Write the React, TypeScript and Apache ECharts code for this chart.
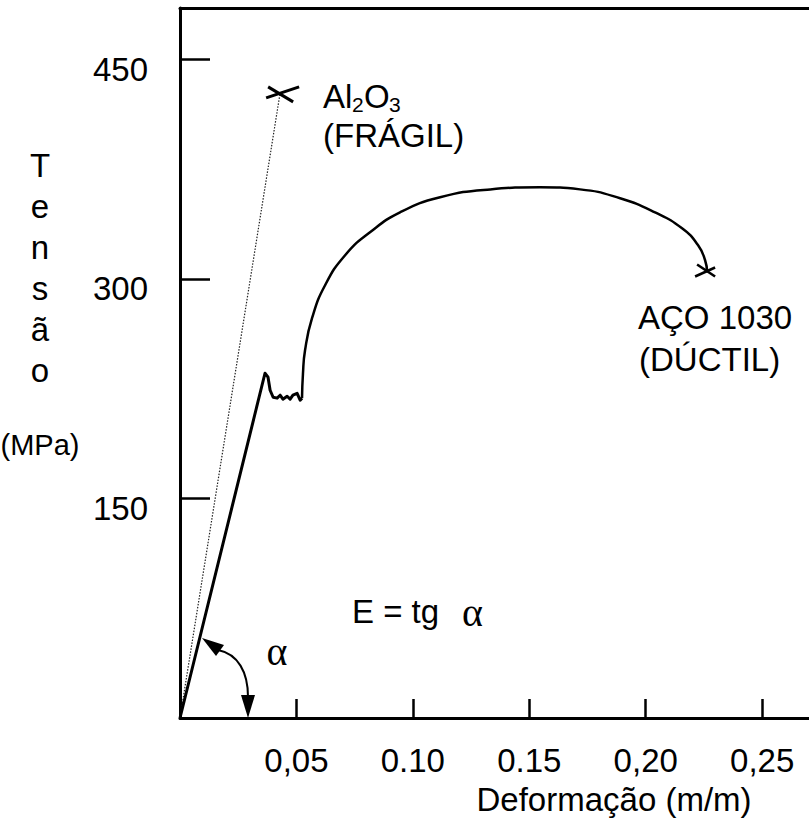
import React, { useEffect, useRef } from "react";
import * as echarts from "echarts";

// ---- data (strain in m/m, stress in MPa) ----
const xTickText: Record<string, string> = {
  "0.05": "0,05",
  "0.10": "0.10",
  "0.15": "0.15",
  "0.20": "0,20",
  "0.25": "0,25",
};
const yTickValues = [150, 300, 450];

// Al2O3 (brittle): straight line up to fracture
const aluminaStrain = [0, 0.043];
const aluminaStress = [0, 427];

// AÇO 1030: elastic part + yield plateau
const steelYieldStrain = [0, 0.0365, 0.0378, 0.0387, 0.04, 0.0417, 0.043, 0.0442, 0.046, 0.0473, 0.0485, 0.0503, 0.0516, 0.0524];
const steelYieldStress = [0, 235.5, 232.8, 223.9, 219.1, 218.5, 220.5, 217.8, 219.8, 217.8, 220.5, 221.8, 217.1, 218.5];

// AÇO 1030: strain hardening, necking, fracture
const steelPlasticStrain = [0.0524, 0.0528, 0.0537, 0.0567, 0.0623, 0.0709, 0.0816, 0.0945, 0.1117, 0.1332, 0.1546, 0.1718, 0.189, 0.204, 0.2156, 0.2225, 0.2255, 0.2264];
const steelPlasticStress = [218.5, 235, 251.2, 273.1, 295.6, 316.1, 331.8, 345.4, 355.7, 361.1, 362.5, 361.1, 355.0, 345.4, 334.5, 322.9, 312.7, 304.5];

// fracture points
const aluminaFracture = [0.043, 427];
const steelFracture = [0.2255, 305];

const SANS = "'Liberation Sans', Arial, Helvetica, sans-serif";
const SERIF = "'Liberation Serif', 'Times New Roman', serif";
const FS = 33;

const zip = (a: number[], b: number[]) => a.map((v, i) => [v, b[i]]);

export default function App() {
  const ref = useRef<HTMLDivElement>(null);
  useEffect(() => {
    if (!ref.current) return;
    const chart = echarts.init(ref.current, undefined, { renderer: "svg" });

    const crossRender = (arms: number[][], w: number) => (params: any, api: any) => {
      const p = api.coord([api.value(0), api.value(1)]);
      return {
        type: "group",
        children: arms.map((a) => ({
          type: "line",
          shape: { x1: p[0] + a[0], y1: p[1] + a[1], x2: p[0] + a[2], y2: p[1] + a[3] },
          style: { stroke: "#000", lineWidth: w },
        })),
      };
    };

    const txt = (text: string, x: number, y: number, opts: any = {}) => ({
      type: "text",
      x,
      y,
      style: {
        text,
        fill: "#000",
        fontSize: FS,
        fontFamily: SANS,
        align: "left",
        verticalAlign: "middle",
        ...opts,
      },
    });

    chart.setOption({
      animation: false,
      backgroundColor: "#fff",
      grid: {
        left: 180,
        top: 8,
        width: 652,
        height: 710,
        show: false,
        outerBoundsMode: "none",
        containLabel: false,
      },
      xAxis: [
        {
          type: "value",
          min: 0,
          max: 0.28,
          interval: 0.05,
          axisLine: { show: true, lineStyle: { color: "#000", width: 3 } },
          axisTick: { show: true, inside: true, length: 19, lineStyle: { color: "#000", width: 2.5 } },
          splitLine: { show: false },
          axisLabel: {
            color: "#000",
            fontSize: FS,
            fontFamily: SANS,
            margin: 26,
            formatter: (v: number) => xTickText[v.toFixed(2)] ?? "",
          },
        },
        {
          type: "value",
          position: "top",
          min: 0,
          max: 0.28,
          axisLine: { show: true, onZero: false, lineStyle: { color: "#000", width: 3 } },
          axisTick: { show: false },
          axisLabel: { show: false },
          splitLine: { show: false },
        },
      ],
      yAxis: {
        type: "value",
        min: 0,
        max: 485,
        interval: 150,
        axisLine: { show: true, lineStyle: { color: "#000", width: 3 } },
        axisTick: { show: true, inside: true, length: 30, lineStyle: { color: "#000", width: 2.5 } },
        splitLine: { show: false },
        axisLabel: {
          color: "#000",
          fontSize: FS,
          fontFamily: SANS,
          margin: 32,
          verticalAlign: "top",
          lineHeight: 20,
          formatter: (v: number) => (yTickValues.includes(v) ? String(v) : ""),
        },
      },
      series: [
        {
          type: "line",
          data: zip(aluminaStrain, aluminaStress),
          showSymbol: false,
          lineStyle: { color: "#222", width: 1.2, type: [1.5, 1.5] },
        },
        {
          type: "line",
          data: zip(steelYieldStrain, steelYieldStress),
          showSymbol: false,
          lineStyle: { color: "#000", width: 3, join: "round" },
        },
        {
          type: "line",
          data: zip(steelPlasticStrain, steelPlasticStress),
          showSymbol: false,
          smooth: 0.5,
          lineStyle: { color: "#000", width: 2.5 },
        },
        {
          type: "custom",
          data: [aluminaFracture],
          renderItem: crossRender(
            [
              [-14, 5, 19, -6],
              [-12, -6, 13, 9],
            ],
            3
          ),
          z: 5,
        },
        {
          type: "custom",
          data: [steelFracture],
          renderItem: crossRender(
            [
              [-8, -7, 10, 5],
              [-10, 5, 10, -4],
            ],
            2.5
          ),
          z: 5,
        },
      ],
      graphic: [
        // vertical y-axis title
        txt("T\ne\nn\ns\nã\no", 40, 268, { align: "center", lineHeight: 41 }),
        txt("(MPa)", 40, 445, { align: "center", fontSize: 29 }),
        // x-axis title
        txt("Deformação (m/m)", 614, 799, { align: "center" }),
        // Al2O3 label
        txt("Al", 323, 96),
        txt("2", 352, 104, { fontSize: 21 }),
        txt("O", 364, 96),
        txt("3", 389, 104, { fontSize: 21 }),
        txt("(FRÁGIL)", 323, 135),
        // steel label
        txt("AÇO 1030", 638, 317),
        txt("(DÚCTIL)", 639, 359),
        // E = tg alpha
        txt("E = tg", 352, 611),
        txt("α", 462, 612, { fontFamily: SERIF, fontSize: 40 }),
        // angle alpha
        txt("α", 277, 651, { fontFamily: SERIF, fontSize: 40, align: "center" }),
        {
          type: "bezierCurve",
          shape: { x1: 218, y1: 650, cpx1: 238, cpy1: 654, cpx2: 248, cpy2: 672, x2: 248, y2: 697 },
          style: { stroke: "#000", lineWidth: 2, fill: "none" },
        },
        {
          type: "polygon",
          shape: { points: [[202, 638], [224, 645], [216, 656]] },
          style: { fill: "#000" },
        },
        {
          type: "polygon",
          shape: { points: [[248, 718], [241, 695], [255, 695]] },
          style: { fill: "#000" },
        },
      ],
    });
    return () => chart.dispose();
  }, []);
  return (
    <div
      style={{ position: "absolute", left: 0, top: 0, width: 809, height: 818, overflow: "hidden", background: "#fff" }}
    >
      <div ref={ref} style={{ width: 809, height: 818 }} />
    </div>
  );
}
